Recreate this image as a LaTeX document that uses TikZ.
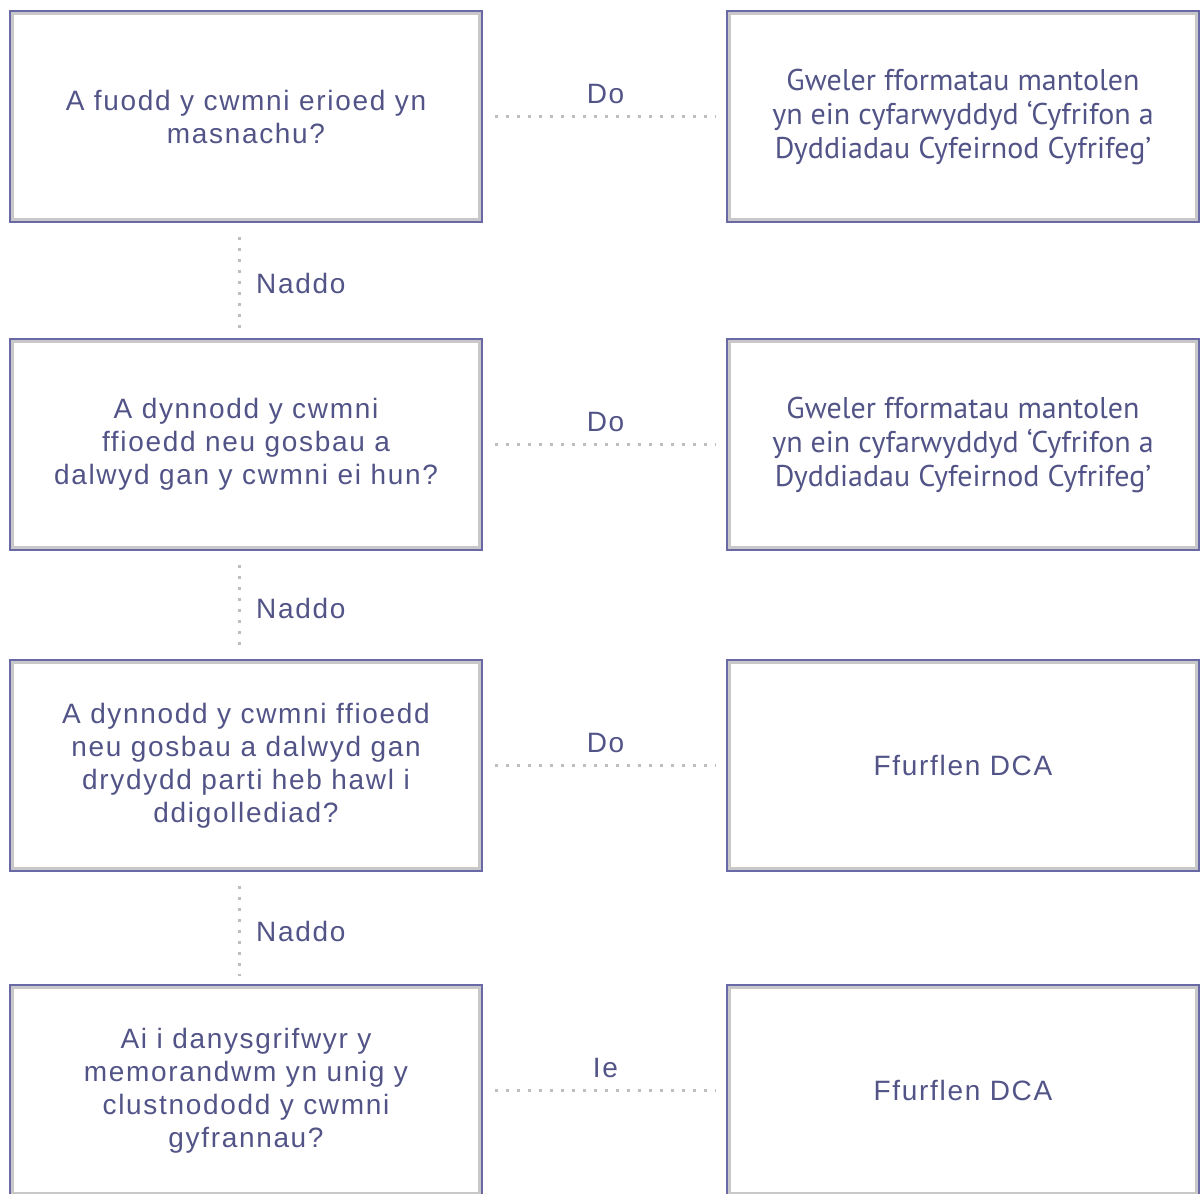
\documentclass[tikz,border=0pt]{standalone}
\usepackage{fontspec}
\setmainfont{Liberation Sans}
\newfontfamily\boxfont[LetterSpace=6]{Liberation Sans}
\newfontfamily\hinweisfont{PT Sans}
\usetikzlibrary{positioning}

\definecolor{rahmen}{RGB}{105,105,165}
\definecolor{schatten}{RGB}{200,200,200}
\definecolor{schrift}{RGB}{82,84,135}
\definecolor{punktgrau}{RGB}{190,190,190}

\tikzset{
  kasten/.style={draw=rahmen, line width=1pt, minimum width=236pt, minimum height=105.5pt,
    align=center, text=schrift, inner sep=0pt,
    font=\boxfont\fontsize{14}{16.5}\selectfont,
    path picture={\draw[schatten, line width=1.5pt]
      ([shift={(1.25pt,-1.25pt)}]path picture bounding box.north west) rectangle
      ([shift={(-1.25pt,1.25pt)}]path picture bounding box.south east);}},
  hinweis/.style={kasten, font=\hinweisfont\fontsize{15}{17}\selectfont},
  punkte/.style={punktgrau, line width=1.5pt, dash pattern=on 1.5pt off 4pt},
  antwort/.style={text=schrift, font=\boxfont\fontsize{14}{16.5}\selectfont}
}

\begin{document}
\begin{tikzpicture}[x=0.5pt, y=-0.5pt]
  \clip (0,0) rectangle (1202,1193);
  \useasboundingbox (0,0) rectangle (1202,1193);

  % Fragen links
  \node[kasten] (f1) at (246,116.5) {A fuodd y cwmni erioed yn\\masnachu?};
  \node[kasten] (f2) at (246,444.5) {A dynnodd y cwmni\\ffioedd neu gosbau a\\dalwyd gan y cwmni ei hun?};
  \node[kasten] (f3) at (246,765.5) {A dynnodd y cwmni ffioedd\\neu gosbau a dalwyd gan\\drydydd parti heb hawl i\\ddigollediad?};
  \node[kasten] (f4) at (246,1090.5) {Ai i danysgrifwyr y\\memorandwm yn unig y\\clustnododd y cwmni\\gyfrannau?};

  % Ergebnisse rechts
  \node[hinweis, right=121.5pt of f1] (e1) {Gweler fformatau mantolen\\yn ein cyfarwyddyd ‘Cyfrifon a\\Dyddiadau Cyfeirnod Cyfrifeg’};
  \node[hinweis, right=121.5pt of f2] (e2) {Gweler fformatau mantolen\\yn ein cyfarwyddyd ‘Cyfrifon a\\Dyddiadau Cyfeirnod Cyfrifeg’};
  \node[kasten, right=121.5pt of f3] (e3) {Ffurflen DCA};
  \node[kasten, right=121.5pt of f4] (e4) {Ffurflen DCA};

  % Verbindungen nach rechts
  \draw[punkte] ([xshift=6pt]f1.east) -- node[antwort, above=2.5pt] {Do} ([xshift=-5pt]e1.west);
  \draw[punkte] ([xshift=6pt]f2.east) -- node[antwort, above=2.5pt] {Do} ([xshift=-5pt]e2.west);
  \draw[punkte] ([xshift=6pt]f3.east) -- node[antwort, above=2.5pt] {Do} ([xshift=-5pt]e3.west);
  \draw[punkte] ([xshift=6pt]f4.east) -- node[antwort, above=2.5pt] {Ie} ([xshift=-5pt]e4.west);

  % Verbindungen nach unten
  \draw[punkte] ([shift={(-3.5pt,-7pt)}]f1.south) -- node[antwort, right=4.5pt] {Naddo} ([shift={(-3.5pt,4pt)}]f2.north);
  \draw[punkte] ([shift={(-3.5pt,-7pt)}]f2.south) -- node[antwort, right=4.5pt] {Naddo} ([shift={(-3.5pt,4pt)}]f3.north);
  \draw[punkte] ([shift={(-3.5pt,-7pt)}]f3.south) -- node[antwort, right=4.5pt] {Naddo} ([shift={(-3.5pt,4pt)}]f4.north);
\end{tikzpicture}
\end{document}
